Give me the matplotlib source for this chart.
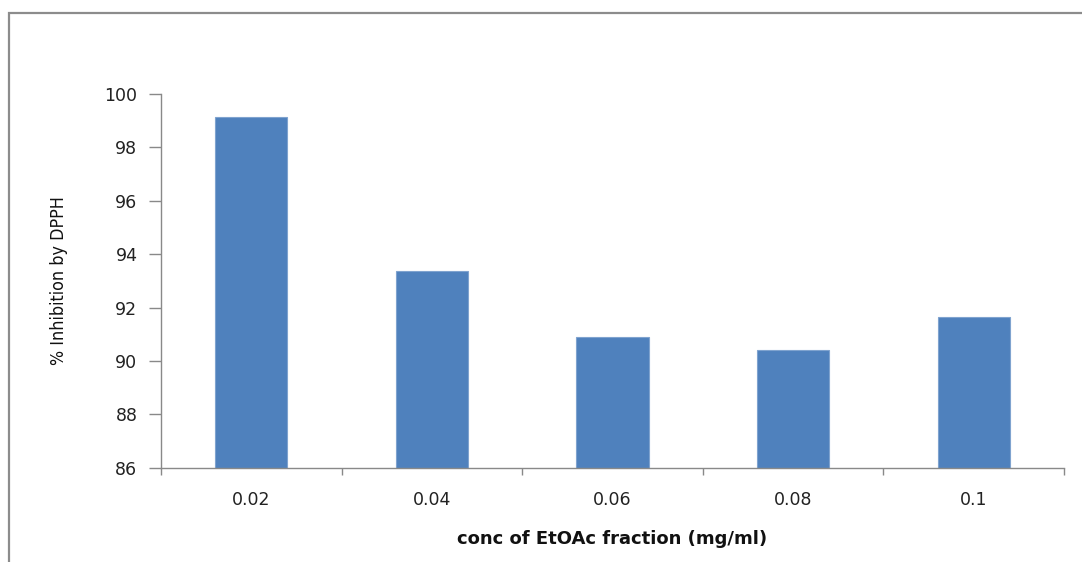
import matplotlib
matplotlib.use("Agg")
import matplotlib.pyplot as plt
from matplotlib.patches import Rectangle
import numpy as np

# data
conc_labels = ["0.02", "0.04", "0.06", "0.08", "0.1"]
inhibition = [99.13, 93.36, 90.91, 90.41, 91.66]
y_ticks = [86, 88, 90, 92, 94, 96, 98, 100]

axis_grey = "#898989"
bar_blue = "#4F81BD"

plt.rcParams['font.family'] = ['DejaVu Sans']

fig = plt.figure(figsize=(10.82, 5.62), dpi=100)
fig.patch.set_facecolor("white")

# outer chart frame (only left and top edges are in view)
fig.patches.append(Rectangle((9 / 1082, -0.1), 1.2, 1 - 13 / 562 + 0.1,
                             transform=fig.transFigure, fill=False,
                             edgecolor="#8c8c8c", linewidth=1.6))

ax = fig.add_axes([161 / 1082, 1 - 467.7 / 562, (1064 - 161) / 1082,
                   (467.7 - 94) / 562])

x = np.arange(len(conc_labels))
ax.bar(x, [v - 86 for v in inhibition], bottom=86, width=0.4,
       color=bar_blue, edgecolor="#7fa3cf", linewidth=0.8)

ax.set_xlim(-0.5, len(conc_labels) - 0.5)
ax.set_ylim(86, 100)

for s in ["top", "right"]:
    ax.spines[s].set_visible(False)
for s in ["left", "bottom"]:
    ax.spines[s].set_color(axis_grey)
    ax.spines[s].set_linewidth(1.0)

ax.set_yticks(y_ticks)
ax.set_yticklabels([str(t) for t in y_ticks], fontsize=12.5, color="#222222")
ax.tick_params(axis="y", length=9, color=axis_grey, width=1.0, pad=8)

ax.set_xticks(x)
ax.set_xticklabels(conc_labels, fontsize=12.5, color="#222222")
ax.tick_params(axis="x", which="major", length=0, pad=17)
ax.set_xticks(np.arange(-0.5, len(conc_labels)), minor=True)
ax.tick_params(axis="x", which="minor", length=5, color=axis_grey, width=1.0)

ax.set_xlabel("conc of EtOAc fraction (mg/ml)", fontsize=13,
              fontweight="bold", color="#111111", labelpad=15)
ax.set_ylabel("% Inhibition by DPPH", fontsize=12.8, color="#111111",
              fontstretch="condensed", labelpad=26)

fig.savefig("out.png", dpi=100, facecolor="white")
